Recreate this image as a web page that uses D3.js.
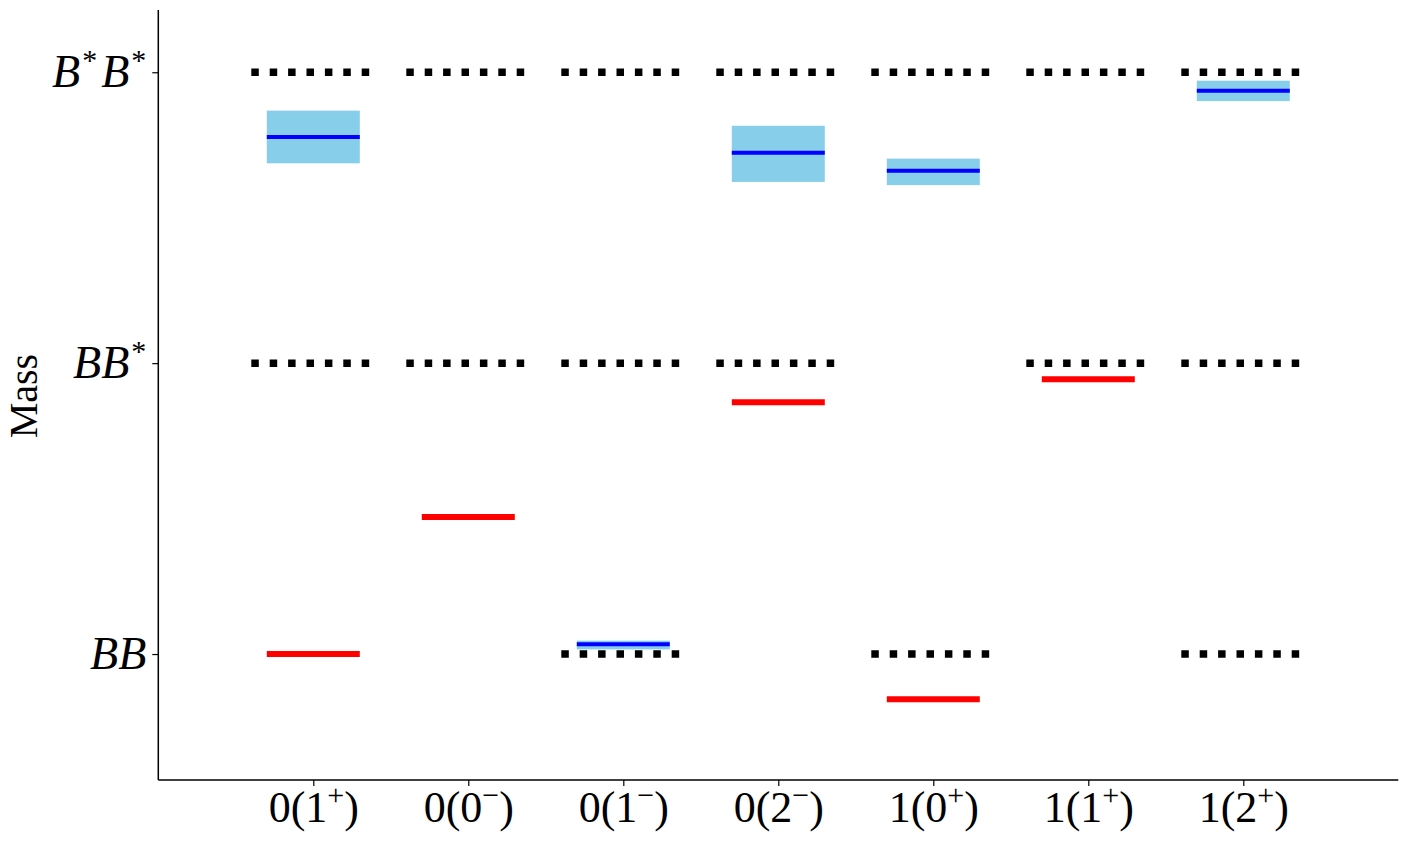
<!DOCTYPE html>
<html>
<head>
<meta charset="utf-8">
<script src="https://cdn.jsdelivr.net/npm/d3@7"></script>
<style>
  body { margin: 0; background: #fff; }
  svg text { font-family: "Liberation Serif", "DejaVu Serif", serif; fill: #000; }
</style>
</head>
<body>
<svg id="chart" width="1407" height="842"></svg>
<script>
// channels: isospin(J^P)
const channels = [
    { iso: "0", j: "1", p: "+" },
    { iso: "0", j: "0", p: "\u2212" },
    { iso: "0", j: "1", p: "\u2212" },
    { iso: "0", j: "2", p: "\u2212" },
    { iso: "1", j: "0", p: "+" },
    { iso: "1", j: "1", p: "+" },
    { iso: "1", j: "2", p: "+" }
];

// thresholds (0 = BB, 1 = BB*, 2 = B*B*); star flag per B
const thresholdNames = [[false, false], [false, true], [true, true]];
const thresholdLevels = [0, 1, 2];
const thresholdsByChannel = [
    [1, 2],
    [1, 2],
    [0, 1, 2],
    [1, 2],
    [0, 2],
    [1, 2],
    [0, 1, 2]
];

// bound states (red): [channel index, mass]
const boundStates = [
    [0, 0.0],
    [1, 0.471],
    [3, 0.866],
    [4, -0.155],
    [5, 0.945]
];

// resonances (blue with band): [channel index, mass, low, high]
const resonances = [
    [0, 1.777, 1.687, 1.868],
    [2, 0.034, 0.016, 0.046],
    [3, 1.723, 1.623, 1.816],
    [4, 1.661, 1.612, 1.703],
    [6, 1.936, 1.901, 1.971]
];

const svg = d3.select("#chart");

const x = d3.scaleLinear().domain([-1, 7]).range([158.3, 1398.3]);
const y = d3.scaleLinear().domain([-0.433, 2.214]).range([780, 10]);

/* bands */
svg.append("g").selectAll("rect")
    .data(resonances)
    .enter().append("rect")
    .attr("x", d => x(d[0] - 0.3))
    .attr("width", x(0.3) - x(-0.3))
    .attr("y", d => y(d[3]))
    .attr("height", d => y(d[2]) - y(d[3]))
    .attr("fill", "#87ceeb");

/* thresholds (dotted) */
const thrData = [];
thresholdsByChannel.forEach((arr, i) => arr.forEach(t => thrData.push({ i, t })));

svg.append("g").selectAll("line")
    .data(thrData)
    .enter().append("line")
    .attr("x1", d => x(d.i - 0.4))
    .attr("x2", d => x(d.i + 0.4))
    .attr("y1", d => y(thresholdLevels[d.t]))
    .attr("y2", d => y(thresholdLevels[d.t]))
    .attr("stroke", "#000")
    .attr("stroke-width", 7.5)
    .attr("stroke-dasharray", "7.5,10.9");

svg.append("g").selectAll("line")
    .data(resonances)
    .enter().append("line")
    .attr("x1", d => x(d[0] - 0.3))
    .attr("x2", d => x(d[0] + 0.3))
    .attr("y1", d => y(d[1]))
    .attr("y2", d => y(d[1]))
    .attr("stroke", "#0000ff")
    .attr("stroke-width", 4);

svg.append("g").selectAll("line")
    .data(boundStates)
    .enter().append("line")
    .attr("x1", d => x(d[0] - 0.3))
    .attr("x2", d => x(d[0] + 0.3))
    .attr("y1", d => y(d[1]))
    .attr("y2", d => y(d[1]))
    .attr("stroke", "#ff0000")
    .attr("stroke-width", 6);

/* axes */
const xAxis = svg.append("g")
    .attr("transform", `translate(0,${y(-0.433)})`)
    .call(d3.axisBottom(x).tickValues(d3.range(channels.length)).tickSize(6).tickFormat(""));
xAxis.select(".domain").attr("stroke-width", 1.5).attr("d", `M${x(-1)},0H${x(7)}`);
xAxis.selectAll(".tick line").attr("stroke-width", 1.2);

xAxis.selectAll(".tick").append("text")
    .attr("y", 42)
    .attr("text-anchor", "middle")
    .attr("font-size", 44)
    .each(function (d) {
        const c = channels[d];
        const t = d3.select(this);
        t.append("tspan").text(`${c.iso}(${c.j}`);
        t.append("tspan").attr("dy", -17).attr("font-size", 30).text(c.p);
        t.append("tspan").attr("dy", 17).text(")");
    });

const yAxis = svg.append("g")
    .attr("transform", `translate(${x(-1)},0)`)
    .call(d3.axisLeft(y).tickValues(thresholdLevels).tickSize(6).tickFormat(""));
yAxis.select(".domain").attr("stroke-width", 1.5).attr("d", `M0,${y(2.214)}V${y(-0.433)}`);
yAxis.selectAll(".tick line").attr("stroke-width", 1.2);

yAxis.selectAll(".tick").append("text")
    .attr("x", -12)
    .attr("y", 14)
    .attr("text-anchor", "end")
    .attr("font-size", 46)
    .attr("font-style", "italic")
    .each(function (d) {
        const t = d3.select(this);
        let shift = 0;
        thresholdNames[d].forEach(star => {
            const b = t.append("tspan").text("B");
            if (shift) b.attr("dx", 4).attr("dy", shift);
            shift = 0;
            if (star) {
                t.append("tspan").attr("dx", 2).attr("dy", -17).attr("font-size", 30).attr("font-style", "normal").text("*");
                shift = 17;
            }
        });
    });

svg.append("text")
    .attr("transform", `translate(37,${y(1.0) + 33}) rotate(-90)`)
    .attr("text-anchor", "middle")
    .attr("font-size", 40)
    .text("Mass");
</script>
</body>
</html>
